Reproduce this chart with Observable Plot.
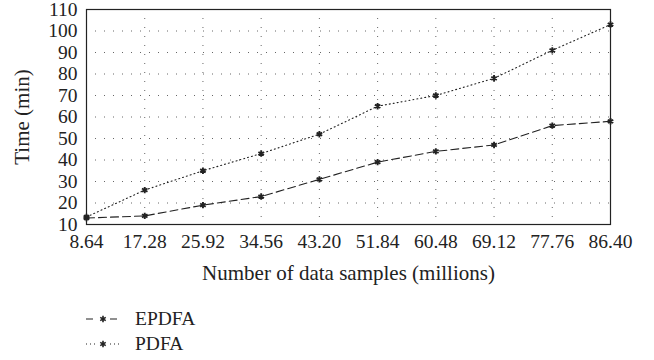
<!DOCTYPE html>
<html>
<head>
<meta charset="utf-8">
<script src="https://cdn.jsdelivr.net/npm/d3@7"></script>
<script src="https://cdn.jsdelivr.net/npm/@observablehq/plot@0.6"></script>
<style>
  body { margin: 0; background: #fff; font-family: "Liberation Serif", "DejaVu Serif", serif; color: #222; }
  #chart svg, #chart svg text { font-family: "Liberation Serif", "DejaVu Serif", serif !important; }
  #legend { padding-left: 86px; margin-top: 16px; font-size: 19.5px; }
  .row { display: flex; align-items: center; height: 25px; }
  .row svg { margin-right: 15px; }
</style>
</head>
<body>
<div id="chart"></div>
<div id="legend"></div>
<script>
const samples = [8.64, 17.28, 25.92, 34.56, 43.20, 51.84, 60.48, 69.12, 77.76, 86.40];
const epdfa = [13, 14, 19, 23, 31, 39, 44, 47, 56, 58];
const pdfa = [13.5, 26, 35, 43, 52, 65, 70, 78, 91, 103];
const yTicks = [10, 20, 30, 40, 50, 60, 70, 80, 90, 100, 110];
const seriesNames = ["EPDFA", "PDFA"];
const dashes = {EPDFA: "8,4", PDFA: "1,3"};
const legendDashes = {EPDFA: "7,5", PDFA: "1,3"};

const data = [];
samples.forEach((x, i) => {
  data.push({x, y: epdfa[i], s: "EPDFA"});
  data.push({x, y: pdfa[i], s: "PDFA"});
});

const plot = Plot.plot({
  width: 654,
  height: 290,
  marginLeft: 86,
  marginRight: 44,
  marginTop: 9,
  marginBottom: 66,
  style: {color: "#222", background: "#fff"},
  x: {domain: [8.64, 86.40]},
  y: {domain: [10, 110]},
  marks: [
    Plot.gridX(samples, {stroke: "#666", strokeOpacity: 1, strokeDasharray: "1,8", strokeWidth: 1}),
    Plot.gridY(yTicks, {stroke: "#666", strokeOpacity: 1, strokeDasharray: "1,8", strokeWidth: 1}),
    Plot.axisX({ticks: samples, tickFormat: d => d.toFixed(2), tickSize: 0, tickPadding: 10, fontSize: 19.5,
      label: null}),
    Plot.axisX({ticks: [], tickSize: 0, fontSize: 21,
      label: "Number of data samples (millions)", labelAnchor: "center", labelArrow: "none", labelOffset: 55}),
    Plot.axisY({ticks: yTicks, tickSize: 0, tickPadding: 9, fontSize: 19.5, label: null}),
    Plot.axisY({ticks: [], tickSize: 0, fontSize: 21,
      label: "Time (min)", labelAnchor: "center", labelArrow: "none", labelOffset: 72}),
    ...seriesNames.map(s => Plot.line(data.filter(d => d.s === s), {
      x: "x", y: "y", stroke: "#222", strokeWidth: 1.1, strokeDasharray: dashes[s]
    })),
    Plot.dot(data, {x: "x", y: "y", symbol: "asterisk", r: 3, stroke: "#222", strokeWidth: 1.9}),
    Plot.frame({stroke: "#222", strokeWidth: 1.2})
  ]
});
document.getElementById("chart").appendChild(plot);

const legend = d3.select("#legend");
seriesNames.forEach(s => {
  const row = legend.append("div").attr("class", "row");
  const svg = row.append("svg").attr("width", 34).attr("height", 14);
  svg.append("line").attr("x1", 0).attr("x2", 34).attr("y1", 7).attr("y2", 7)
    .attr("stroke", "#222").attr("stroke-width", 1.1).attr("stroke-dasharray", legendDashes[s]);
  svg.append("rect").attr("x", 12).attr("y", 2).attr("width", 10).attr("height", 10).attr("fill", "#fff");
  svg.append("path").attr("d", d3.symbol(d3.symbolAsterisk, 28)())
    .attr("transform", "translate(17,7)").attr("stroke", "#222").attr("stroke-width", 1.6).attr("fill", "none");
  row.append("span").text(s);
});
</script>
</body>
</html>
